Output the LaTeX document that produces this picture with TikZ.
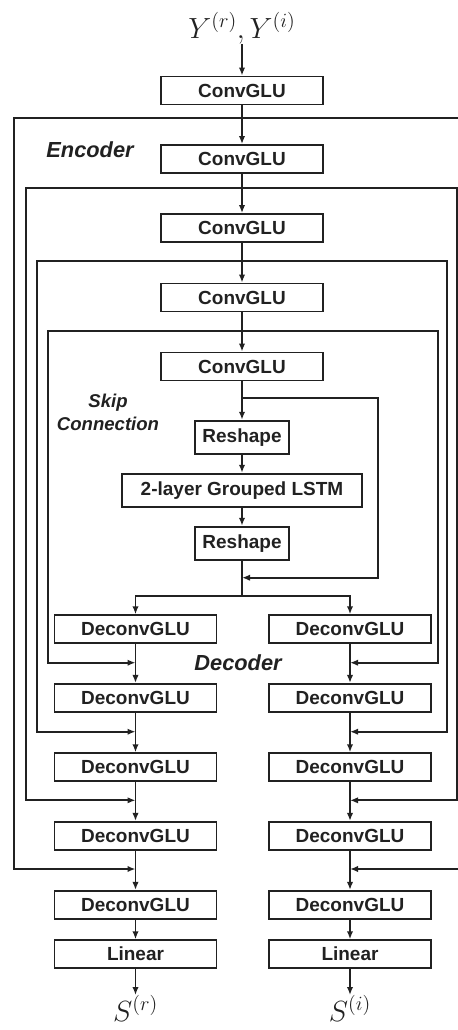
\documentclass[tikz,border=0pt]{standalone}
\usepackage{fontspec}
\setmainfont{Liberation Sans}
\usetikzlibrary{arrows.meta}
\definecolor{ink}{gray}{0.13}
\tikzstyle{glu} = [draw=ink, line width=1.3pt, minimum width=4.05cm, minimum height=0.7cm, inner sep=0pt, text=ink, font=\fontsize{13.5}{15}\selectfont\bfseries]
\tikzstyle{shp} = [glu, minimum width=2.35cm, minimum height=0.83cm]
\tikzstyle{flow} = [draw=ink, line width=1.3pt, -{Latex[length=2mm,width=1.6mm]}]
\tikzstyle{lbl} = [text=ink, inner sep=0pt, font=\fontsize{15.5}{18}\selectfont\bfseries\itshape]
\tikzstyle{sym} = [text=ink, inner sep=0pt, font=\fontsize{22}{26}\selectfont]
\newcommand{\dpair}[2]{\node [glu] (dl#1) at (135.5,#2) {DeconvGLU}; \node [glu] (dr#1) at (350,#2) {DeconvGLU};}

\begin{document}
\begin{tikzpicture}[x=0.025cm, y=-0.025cm]%
	\useasboundingbox (0,0) rectangle (458,1030);%
	% encoder
	\node [sym, anchor=south] (inp) at (242,44) {$Y^{(r)},Y^{(i)}$};%
	\foreach \n/\y in {1/90.5, 2/159, 3/228, 4/297.5, 5/366.5}
		\node [glu] (cg\n) at (242,\y) {ConvGLU};%
	\node [lbl] (enc) at (90,150) {Encoder};%
	\node [shp] (rs1) at (242,437.3) {Reshape};%
	\node [shp, minimum width=6cm] (lstm) at (242,490.3) {2-layer Grouped LSTM};%
	\node [shp] (rs2) at (242,543.3) {Reshape};%
	\node [lbl, align=center, font=\fontsize{13.2}{16.5}\selectfont\bfseries\itshape] (skp) at (108,412) {Skip\\Connection};%
	% decoder
	\dpair{1}{629.2} \dpair{2}{697.8} \dpair{3}{767.2} \dpair{4}{835.8} \dpair{5}{904.8}%
	\node [glu] (linl) at (135.5,954.2) {Linear};%
	\node [glu] (linr) at (350,954.2) {Linear};%
	\node [lbl] (dec) at (238,663) {Decoder};%
	\node [sym, anchor=north] (outl) at (135.5,995) {$S^{(r)}$};%
	\node [sym, anchor=north] (outr) at (350,995) {$S^{(i)}$};%
	% connectors
	\draw [flow] (inp) -- (cg1);%
	\foreach \a/\b in {1/2, 2/3, 3/4, 4/5}
		\draw [flow] (cg\a) -- (cg\b);%
	\draw [flow] (cg5) -- (rs1);%
	\draw [flow] (rs1) -- (lstm);%
	\draw [flow] (lstm) -- (rs2);%
	\coordinate (sk) at (242,398.3);%
	\coordinate (skr) at (378.3,398.3);%
	\coordinate (mrg) at (242,577.7);%
	\coordinate (spl) at (242,595.7);%
	\draw [flow] (sk) -- (skr) |- (mrg);%
	\draw [draw=ink, line width=1.3pt] (rs2) -- (spl);%
	\draw [flow] (spl) -| (dl1);%
	\draw [flow] (spl) -| (dr1);%
	\foreach \a/\b in {1/2, 2/3, 3/4, 4/5} {%
		\draw [flow] (dl\a) -- (dl\b);%
		\draw [flow] (dr\a) -- (dr\b);}%
	\draw [flow] (dl5) -- (linl);%
	\draw [flow] (dr5) -- (linr);%
	\draw [flow] (linl) -- (outl);%
	\draw [flow] (linr) -- (outr);%
	% skip loops, outer to inner
	\foreach \i/\t/\l/\r/\y in {1/118/14/460/869, 2/188/26/456.7/800.3, 3/260.7/36.7/447.3/731.7, 4/331/47.7/438.3/662.7} {%
		\coordinate (et\i) at (242,\t);%
		\coordinate (jl\i) at (135.5,\y);%
		\coordinate (jr\i) at (350,\y);%
		\draw [flow] (et\i) -| (\l,\y) -- (jl\i);%
		\draw [flow] (et\i) -| (\r,\y) -- (jr\i);}%
\end{tikzpicture}
\end{document}
